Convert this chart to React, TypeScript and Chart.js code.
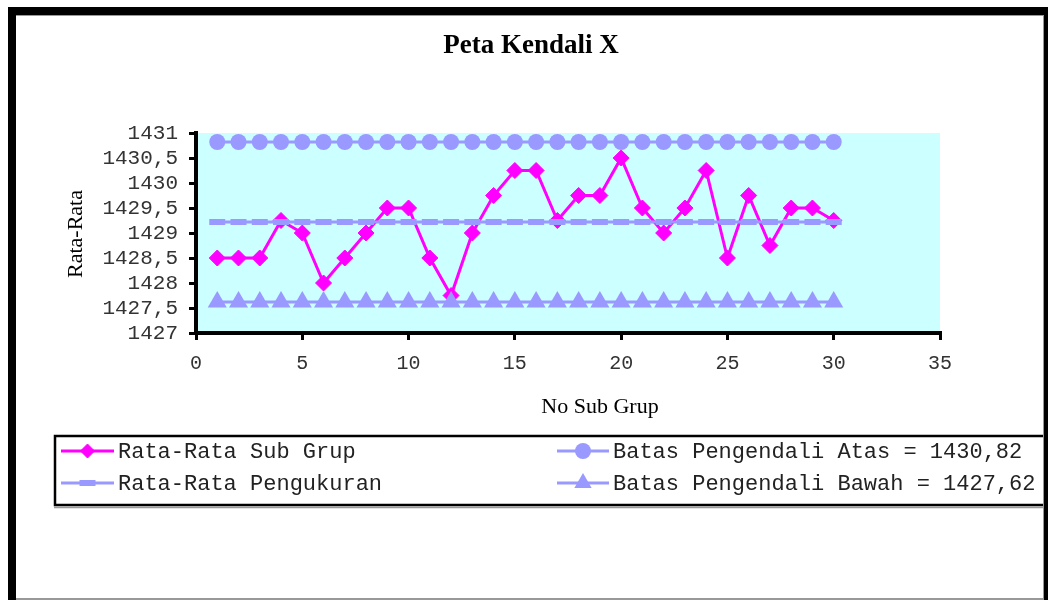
import React, { useEffect, useRef } from 'react';
import { Chart, registerables } from 'chart.js';

Chart.register(...registerables);

// ---------- data ----------
const CHART_TITLE = 'Peta Kendali X';
const X_AXIS_TITLE = 'No Sub Grup';
const Y_AXIS_TITLE = 'Rata-Rata';

const subGroups = [1, 2, 3, 4, 5, 6, 7, 8, 9, 10, 11, 12, 13, 14, 15, 16, 17, 18, 19, 20, 21, 22, 23, 24, 25, 26, 27, 28, 29, 30];
const subGroupMeans = [
  1428.5, 1428.5, 1428.5, 1429.25, 1429, 1428, 1428.5, 1429, 1429.5, 1429.5,
  1428.5, 1427.75, 1429, 1429.75, 1430.25, 1430.25, 1429.25, 1429.75, 1429.75, 1430.5,
  1429.5, 1429, 1429.5, 1430.25, 1428.5, 1429.75, 1428.75, 1429.5, 1429.5, 1429.25,
];
const upperControlLimit = 1430.82;
const centerLine = 1429.22;
const lowerControlLimit = 1427.62;

const seriesNames = [
  'Rata-Rata Sub Grup',
  'Batas Pengendali Atas = 1430,82',
  'Rata-Rata Pengukuran',
  'Batas Pengendali Bawah = 1427,62',
];

const xTickValues = [0, 5, 10, 15, 20, 25, 30, 35];
const yTickValues = [1427, 1427.5, 1428, 1428.5, 1429, 1429.5, 1430, 1430.5, 1431];

// ---------- styles ----------
const MAGENTA = '#FF00FF';
const LAVENDER = '#9999FF';
const PLOT_BG = '#CCFFFF';
const MONO = '"Liberation Mono", "Courier New", monospace';
const SERIF = '"Liberation Serif", "Times New Roman", serif';

function drawMarker(ctx: CanvasRenderingContext2D, style: string, x: number, y: number, r: number, color: string, bw: number) {
  ctx.save();
  ctx.fillStyle = color;
  ctx.strokeStyle = color;
  ctx.beginPath();
  if (style === 'circle') {
    ctx.arc(x, y, r, 0, Math.PI * 2);
    ctx.fill();
  } else if (style === 'rectRot') {
    ctx.moveTo(x - r, y);
    ctx.lineTo(x, y - r);
    ctx.lineTo(x + r, y);
    ctx.lineTo(x, y + r);
    ctx.closePath();
    ctx.fill();
    if (bw) { ctx.lineWidth = bw; ctx.stroke(); }
  } else if (style === 'triangle') {
    ctx.moveTo(x, y - r);
    ctx.lineTo(x + Math.sin(Math.PI * 2 / 3) * r, y - Math.cos(Math.PI * 2 / 3) * r);
    ctx.lineTo(x + Math.sin(Math.PI * 4 / 3) * r, y - Math.cos(Math.PI * 4 / 3) * r);
    ctx.closePath();
    ctx.fill();
  } else if (style === 'line') {
    ctx.lineWidth = bw;
    ctx.moveTo(x - r, y);
    ctx.lineTo(x + r, y);
    ctx.stroke();
  }
  ctx.restore();
}

const plotBackground = {
  id: 'plotBackground',
  beforeDraw(chart: any) {
    const { ctx, chartArea: a } = chart;
    ctx.save();
    ctx.fillStyle = PLOT_BG;
    ctx.fillRect(a.left, a.top, a.right - a.left, a.bottom - a.top);
    ctx.restore();
  },
};

const textsAndLegend = {
  id: 'textsAndLegend',
  afterDraw(chart: any) {
    const ctx: CanvasRenderingContext2D = chart.ctx;
    ctx.save();
    // title
    ctx.fillStyle = '#000';
    ctx.textAlign = 'center';
    ctx.textBaseline = 'middle';
    ctx.font = `bold 27px ${SERIF}`;
    ctx.fillText(CHART_TITLE, 531, 46);
    // x axis title
    ctx.font = `22px ${SERIF}`;
    ctx.fillText(X_AXIS_TITLE, 600, 407);
    // y axis title
    ctx.save();
    ctx.translate(76, 234);
    ctx.rotate(-Math.PI / 2);
    ctx.fillText(Y_AXIS_TITLE, 0, 0);
    ctx.restore();

    // legend box
    const box = { left: 55, top: 436, right: 1047, bottom: 505 };
    ctx.strokeStyle = '#999';
    ctx.lineWidth = 1.5;
    ctx.beginPath();
    ctx.moveTo(box.left - 1, box.bottom + 2.5);
    ctx.lineTo(box.right, box.bottom + 2.5);
    ctx.stroke();
    ctx.strokeStyle = '#000';
    ctx.lineWidth = 2.5;
    ctx.strokeRect(box.left, box.top, box.right - box.left, box.bottom - box.top);

    const rowsY = [451, 483];
    const swatchStart = [61, 557];
    const swatchEnd = [114, 609];
    const textX = [118, 613];
    ctx.font = `22px ${MONO}`;
    ctx.textAlign = 'left';
    chart.data.datasets.forEach((ds: any, i: number) => {
      const col = i % 2;
      const row = Math.floor(i / 2);
      const y = rowsY[row];
      ctx.strokeStyle = ds.borderColor;
      ctx.lineWidth = ds.borderWidth;
      ctx.beginPath();
      ctx.moveTo(swatchStart[col], y);
      ctx.lineTo(swatchEnd[col], y);
      ctx.stroke();
      drawMarker(ctx, ds.pointStyle, (swatchStart[col] + swatchEnd[col]) / 2, y, ds.legendMarkerRadius, ds.pointBackgroundColor, ds.pointBorderWidth);
      ctx.fillStyle = '#222';
      ctx.fillText(ds.label, textX[col], y + 1);
    });
    ctx.restore();
  },
};

const axisGrid = {
  display: true,
  drawOnChartArea: false,
  drawTicks: true,
  tickLength: 7,
  tickWidth: 3,
  tickColor: '#000',
  color: '#000',
  lineWidth: 3,
};
const axisBorder = { display: true, color: '#000', width: 4 };

export default function App() {
  const ref = useRef<HTMLCanvasElement>(null);

  useEffect(() => {
    const canvas = ref.current;
    if (!canvas) return;
    const chart = new Chart(canvas, {
      type: 'line',
      data: {
        datasets: [
          {
            label: seriesNames[0],
            data: subGroups.map((x, i) => ({ x, y: subGroupMeans[i] })),
            borderColor: MAGENTA,
            backgroundColor: MAGENTA,
            borderWidth: 3,
            pointStyle: 'rectRot',
            pointRadius: 8,
            legendMarkerRadius: 7,
            pointBorderWidth: 1,
            pointBackgroundColor: MAGENTA,
            pointBorderColor: MAGENTA,
            order: 4,
          },
          {
            label: seriesNames[1],
            data: subGroups.map((x) => ({ x, y: upperControlLimit })),
            borderColor: LAVENDER,
            backgroundColor: LAVENDER,
            borderWidth: 3,
            pointStyle: 'circle',
            pointRadius: 8,
            legendMarkerRadius: 8,
            pointBorderWidth: 0,
            pointBackgroundColor: LAVENDER,
            pointBorderColor: LAVENDER,
            order: 1,
          },
          {
            label: seriesNames[2],
            data: subGroups.map((x) => ({ x, y: centerLine })),
            borderColor: LAVENDER,
            backgroundColor: LAVENDER,
            borderWidth: 3,
            pointStyle: 'line',
            pointRadius: 8,
            legendMarkerRadius: 8,
            pointBorderWidth: 6,
            pointBackgroundColor: LAVENDER,
            pointBorderColor: LAVENDER,
            order: 3,
          },
          {
            label: seriesNames[3],
            data: subGroups.map((x) => ({ x, y: lowerControlLimit })),
            borderColor: LAVENDER,
            backgroundColor: LAVENDER,
            borderWidth: 3,
            pointStyle: 'triangle',
            pointRadius: 11,
            legendMarkerRadius: 10,
            pointBorderWidth: 0,
            pointBackgroundColor: LAVENDER,
            pointBorderColor: LAVENDER,
            order: 2,
          },
        ],
      },
      options: {
        responsive: false,
        animation: false,
        devicePixelRatio: 1,
        events: [],
        layout: { padding: { left: 96, top: 133, right: 108, bottom: 208 } },
        elements: { line: { tension: 0 } },
        plugins: {
          legend: { display: false },
          title: { display: false },
          tooltip: { enabled: false },
        },
        scales: {
          x: {
            type: 'linear',
            min: xTickValues[0],
            max: xTickValues[xTickValues.length - 1],
            afterBuildTicks: (s: any) => { s.ticks = xTickValues.map((v) => ({ value: v })); },
            afterFit: (s: any) => { s.height = 60; },
            ticks: {
              font: { family: MONO, size: 20 },
              color: '#333',
              padding: 12,
              maxRotation: 0,
              autoSkip: false,
            },
            grid: axisGrid,
            border: axisBorder,
          },
          y: {
            type: 'linear',
            min: yTickValues[0],
            max: yTickValues[yTickValues.length - 1],
            afterBuildTicks: (s: any) => { s.ticks = yTickValues.map((v) => ({ value: v })); },
            afterFit: (s: any) => { s.width = 100; },
            ticks: {
              font: { family: MONO, size: 21 },
              color: '#333',
              padding: 11,
              autoSkip: false,
              callback: (v: any) => String(v).replace('.', ','),
            },
            grid: axisGrid,
            border: axisBorder,
          },
        },
      } as any,
      plugins: [plotBackground, textsAndLegend],
    });
    return () => chart.destroy();
  }, []);

  return (
    <div style={{ position: 'fixed', left: 0, top: 0, width: 1048, height: 601, background: '#fff', overflow: 'hidden' }}>
      <canvas ref={ref} width={1048} height={601} style={{ position: 'absolute', left: 0, top: 0 }} />
      <div
        style={{
          position: 'absolute',
          left: 8,
          top: 7,
          width: 1040,
          height: 593,
          boxSizing: 'border-box',
          borderTop: '8px solid #000',
          borderLeft: '8px solid #000',
          borderRight: '4px solid #000',
          pointerEvents: 'none',
        }}
      >
        <div
          style={{
            position: 'absolute',
            inset: 0,
            borderTop: '1px solid #999',
            borderRight: '1px solid #999',
            borderBottom: '2px solid #999',
          }}
        />
      </div>
    </div>
  );
}
